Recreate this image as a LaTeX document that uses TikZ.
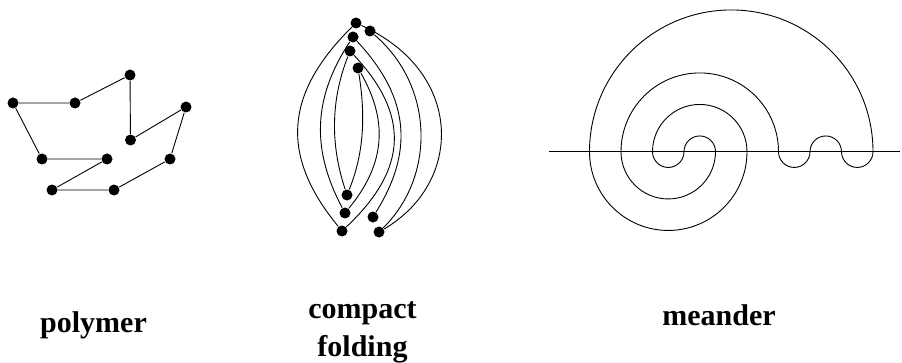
\documentclass[tikz,border=0pt]{standalone}
\usepackage{fontspec}
\setmainfont{Liberation Serif}
\usetikzlibrary{positioning}

\begin{document}
\begin{tikzpicture}[
    x=1pt, y=1pt,
    line width=0.9pt,
    bead/.style={circle, fill=black, inner sep=0pt, minimum size=11pt},
    tagtxt/.style={font=\fontsize{30}{36}\selectfont\bfseries, anchor=base, inner sep=0pt},
]
\useasboundingbox (0,0) rectangle (902,362);

% ---- polymer ----
\node[bead] (pa) at (13,259) {};
\node[bead] (pb) at (75,259) {};
\node[bead] (pc) at (130,287) {};
\node[bead] (pd) at (130.5,222) {};
\node[bead] (pe) at (186,255) {};
\node[bead] (pf) at (170,203) {};
\node[bead] (pg) at (114,172) {};
\node[bead] (ph) at (52,172) {};
\node[bead] (pi) at (107,203) {};
\node[bead] (pj) at (42,203) {};
\draw (pa) -- (pb) -- (pc) -- (pd) -- (pe) -- (pf) -- (pg) -- (ph) -- (pi) -- (pj) -- (pa);

% ---- compact folding ----
\node[bead] (cf1) at (356,339) {};
\node[bead] (cf2) at (370,331) {};
\node[bead] (cf3) at (353,325) {};
\node[bead] (cf4) at (350,311) {};
\node[bead] (cf5) at (358,294) {};
\node[bead] (cf6) at (347,167) {};
\node[bead] (cf7) at (345,149) {};
\node[bead] (cf8) at (373,145) {};
\node[bead] (cf9) at (342,131) {};
\node[bead] (cf10) at (379,130) {};
% left side
\draw (cf1) .. controls (282,266) and (282,204) .. (cf9);
\draw (cf3) .. controls (312,263) and (312,211) .. (cf7);
\draw (cf4) .. controls (330.5,261) and (330.5,217) .. (cf6);
% right side
\draw (cf5) .. controls (365,249.5) and (365,211.5) .. (cf6);
\draw (cf5) .. controls (387,243) and (387,200) .. (cf7);
\draw (cf4) .. controls (409,248) and (409,194) .. (cf9);
\draw (cf3) .. controls (412,262) and (412,208) .. (cf8);
\draw (cf2) .. controls (435,275) and (435,185) .. (cf10);
\draw (cf1) .. controls (464,290) and (464,180) .. (cf10);

% ---- meander ----
\coordinate (axisL) at (549,210.3);
\coordinate (axisR) at (900,210.3);
\coordinate (start) at (715.5,210.3);
\draw (axisL) -- (axisR);
\draw (start) arc[start angle=0, end angle=180, radius=15.75]
    arc[start angle=0, end angle=-180, radius=15.75]
    arc[start angle=180, end angle=0, radius=47.25]
    arc[start angle=0, end angle=-180, radius=78.75]
    arc[start angle=180, end angle=0, radius=141.75]
    arc[start angle=0, end angle=-180, radius=15.75]
    arc[start angle=0, end angle=180, radius=15.75]
    arc[start angle=0, end angle=-180, radius=15.75]
    arc[start angle=0, end angle=180, radius=78.75]
    arc[start angle=180, end angle=360, radius=47.25] -- cycle;

% ---- labels ----
\node[tagtxt] (polylbl) at (93.5,30) {polymer};
\node[tagtxt] (cmplbl) at (362.5,44) {compact};
\node[tagtxt, below=38pt of cmplbl.base, anchor=base] (foldlbl) {folding};
\node[tagtxt] (meanlbl) at (719,37) {meander};

\end{tikzpicture}
\end{document}
